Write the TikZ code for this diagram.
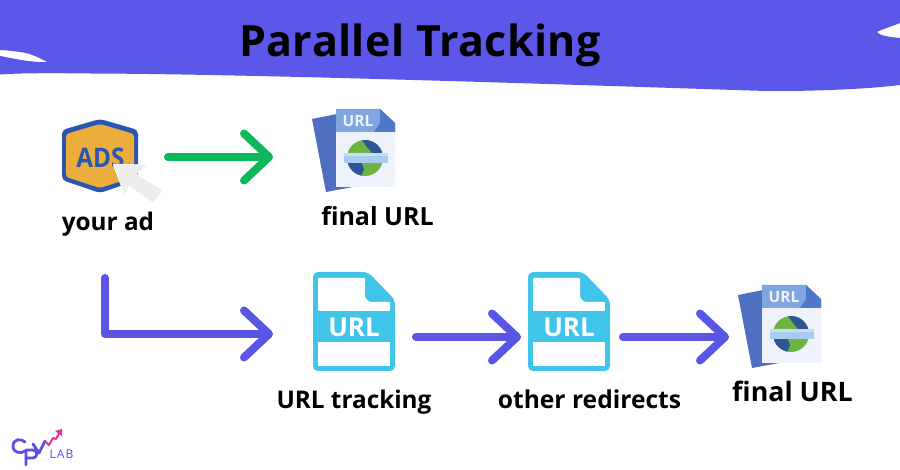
\documentclass[tikz,border=0pt]{standalone}
\usepackage{fontspec}
\setmainfont{Open Sans}
\usetikzlibrary{arrows.meta}
\definecolor{bannerc}{HTML}{5B57E8}
\definecolor{arrowc}{HTML}{5B55E6}
\definecolor{greenc}{HTML}{0DB85A}
\definecolor{cyanc}{HTML}{40C4E8}
\definecolor{pageback}{HTML}{4F6FC0}
\definecolor{pagefront}{HTML}{EEF2FB}
\definecolor{pagehead}{HTML}{7FA6DE}
\definecolor{pagefold}{HTML}{4F78C8}
\definecolor{globeblue}{HTML}{2F5597}
\definecolor{globegreen}{HTML}{6CB33F}
\definecolor{globeband}{HTML}{A9CBF0}
\definecolor{adsblue}{HTML}{2A55B0}
\definecolor{adsgold}{HTML}{EBAE3C}
\definecolor{cursorc}{HTML}{EDEDEB}
\definecolor{logop}{HTML}{5B4FE8}
\definecolor{logom}{HTML}{E8309C}
\tikzset{
  x=1pt,y=-1pt,
  flow/.style={line width=8pt,line cap=round,line join=round,-{Straight Barb[round,length=25pt,width=47pt]}},
  lab/.style={font=\bfseries\fontsize{24.3}{28}\selectfont,text=black,inner sep=0pt,anchor=base},
  slot/.style={inner sep=0pt,minimum width=#1,minimum height=8pt},
  pics/cyandoc/.style={code={
    \fill[cyanc,rounded corners=5pt] (0,0) -- (55,0) -- (82,28) -- (82,99) -- (0,99) -- cycle;
    \fill[white,rounded corners=1pt] (5,6) -- (52,6) -- (52,22) .. controls (52,27) and (55,30) .. (60,30) -- (77,30) -- (77,39) -- (5,39) -- cycle;
    \fill[white] (5,70) rectangle (77,94);
    \node[inner sep=0pt,text=white,font=\bfseries\fontsize{26}{30}\selectfont] at (41,55) {URL};
  }},
  pics/globedoc/.style={code={
    \fill[pageback] (0,10) -- (25,5) -- (41,78) -- (14,83) -- cycle;
    \fill[pagefront] (24,0) -- (68,0) -- (83,14) -- (83,78) -- (24,78) -- cycle;
    \fill[pagehead] (24,0) -- (68,0) -- (83,14) -- (83,23) -- (24,23) -- cycle;
    \fill[pagefold] (68,0) -- (83,14) -- (83,23) -- (62,23) -- (68,14) -- cycle;
    \node[inner sep=0pt,text=pagefront,font=\bfseries\fontsize{15.5}{17}\selectfont] at (46,12) {URL};
    \fill[globegreen] (53,49) circle[radius=18];
    \begin{scope}
      \clip (53,49) circle[radius=18];
      \fill[globeblue] (49,30) -- (72,30) -- (72,44) -- (60,44) -- (55,38) -- cycle;
      \fill[globeblue] (34,50) -- (48,50) -- (52,60) -- (48,70) -- (34,70) -- cycle;
    \end{scope}
    \fill[globeband] (32,44) rectangle (76,54);
    \fill[white,opacity=.35] (32,44) rectangle (76,47);
  }}
}
\begin{document}
\begin{tikzpicture}
\useasboundingbox (0,0) rectangle (900,470);
\fill[white] (0,0) rectangle (900,470);
% banner
\fill[bannerc] (0,0) -- (900,0) -- (900,23)
  .. controls (893,26) and (880,30) .. (877,32)
  .. controls (880,36) and (890,37) .. (900,38)
  -- (900,85) .. controls (860,90) and (790,92) .. (750,90.5)
  .. controls (550,84) and (250,74) .. (90,73.5)
  .. controls (50,73) and (20,73) .. (0,74.5)
  -- (0,56) .. controls (15,59) and (35,63) .. (47,62)
  .. controls (40,58) and (30,53) .. (20,52)
  .. controls (12,51) and (5,50) .. (0,50) -- cycle;
\node[inner sep=0pt,text=black,anchor=base,font=\bfseries\fontsize{43}{46}\selectfont] (title) at (420,57) {\addfontfeature{LetterSpace=1}Parallel Tracking};
% ad icon
\fill[adsblue,rounded corners=4pt] (100,119) -- (138,130) -- (138,180) -- (100,193) -- (62,180) -- (62,130) -- cycle;
\fill[adsgold,rounded corners=3pt] (100,124) -- (134,134) -- (134,177) -- (100,188) -- (66,177) -- (66,134) -- cycle;
\node[inner sep=0pt,text=adsblue,transform shape,xscale=.9,font=\bfseries\fontsize{27}{28}\selectfont] (adstext) at (100.5,157.5) {ADS};
\fill[cursorc,rounded corners=1pt,draw=white,line width=.6pt] (113,164) -- (148,165) -- (136,174) -- (163,190) -- (153,203) -- (129,186) -- (125,196) -- cycle;
\node[slot=80pt,minimum height=75pt] (ad) at (100,157) {};
\node[lab] (adlab) at (108,231) {your ad};
% first doc row
\pic at (312,109) {globedoc};
\node[slot=83pt,minimum height=83pt] (doca) at (353.5,150) {};
\node[lab,font=\bfseries\fontsize{25}{28}\selectfont] (docalab) at (377.5,226) {final URL};
\coordinate (adout) at (168,157);
\coordinate (docain) at (273,157);
\draw[flow,greenc] (adout) -- (docain);
% second row
\pic at (313,272) {cyandoc};
\node[slot=82pt,minimum height=99pt] (track) at (354,321.5) {};
\node[lab] (tracklab) at (354,408) {URL tracking};
\pic at (528,272) {cyandoc};
\node[slot=82pt,minimum height=99pt] (redir) at (569,321.5) {};
\node[lab,font=\bfseries\fontsize{24.6}{28}\selectfont] (redirlab) at (589.5,409) {other redirects};
\pic at (738,285) {globedoc};
\node[slot=83pt,minimum height=83pt] (docb) at (779.5,326) {};
\node[lab,font=\bfseries\fontsize{26.8}{28}\selectfont] (docblab) at (792.5,401) {final URL};
\coordinate (elbowtop) at (105,278);
\coordinate (elbowcorner) at (105,334);
\coordinate (elbowend) at (273,334);
\draw[flow,arrowc] (elbowtop) -- (elbowcorner) -- (elbowend);
\coordinate (t1) at (416,337);
\coordinate (t2) at (521,337);
\coordinate (t3) at (623,337);
\coordinate (t4) at (729,337);
\draw[flow,arrowc] (t1) -- (t2);
\draw[flow,arrowc] (t3) -- (t4);
% logo
\draw[logop,line width=2.8pt,line cap=round] (25,442) .. controls (21,438) and (13,439) .. (13,446) .. controls (13,453) and (21,454) .. (25,451);
\draw[logop,line width=2.8pt,line cap=round,line join=round] (26,465) -- (26,450) -- (33,450) .. controls (38,450) and (38,458) .. (33,458) -- (27,458);
\draw[logop,line width=2.8pt,line cap=round,line join=round] (33,444) -- (39,453) -- (45,441);
\draw[logom,line width=2pt,line cap=round,line join=round] (45,441) -- (49,445) -- (53,438) -- (56,439) -- (60,432);
\fill[logom] (55,431) -- (62,429) -- (62,436) -- cycle;
\node[inner sep=0pt,text=logop,font=\fontsize{12}{12}\selectfont] (logolab) at (61.5,454) {\addfontfeature{LetterSpace=10}LAB};
\end{tikzpicture}
\end{document}
